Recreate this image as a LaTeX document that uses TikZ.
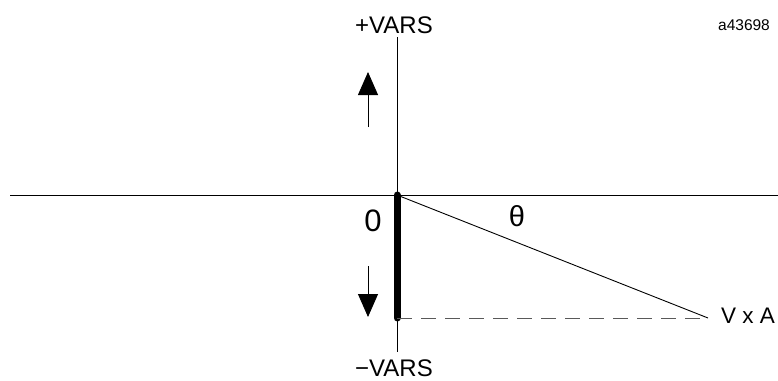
\documentclass[tikz,border=0pt]{standalone}
\usepackage{fontspec}
\setmainfont{Liberation Sans}
\usetikzlibrary{arrows.meta}

\tikzset{
  axisline/.style={draw=black, line width=0.9pt},
  bigfont/.style={font=\fontsize{24}{28}\selectfont, inner sep=0pt},
  moveup/.style={line width=0.9pt, -{Triangle[length=23pt, width=20pt]}}
}

\begin{document}
\begin{tikzpicture}[x=1pt, y=-1pt]
    \useasboundingbox (0,0) rectangle (778,380);

    % Axes
    \coordinate (O) at (397,195);
    \coordinate (top) at (397,37);
    \coordinate (bot) at (397,352);
    \coordinate (left) at (10,195);
    \coordinate (right) at (778,195);
    \draw[axisline] (left) -- (right);
    \draw[axisline] (top) -- (bot);

    % Reactive power and triangle
    \coordinate (base) at (397,318);
    \coordinate (tip) at (708,318);
    \draw[line width=7pt, line cap=round] (O) -- (base);
    \draw[line width=0.9pt] (O) -- (tip);
    \draw[line width=1pt, dash pattern=on 15pt off 9pt, draw=black!65] (base) -- (tip);

    % Direction arrows
    \coordinate (upfrom) at (368,127);
    \coordinate (upto) at (368,72);
    \coordinate (dnfrom) at (368,266);
    \coordinate (dnto) at (368,317);
    \draw[moveup] (upfrom) -- (upto);
    \draw[moveup] (dnfrom) -- (dnto);

    % Labels
    \node[bigfont] (plusvars) at (394,25) {+VARS};
    \node[bigfont] (minusvars) at (394,368) {−VARS};
    \node[font=\fontsize{31}{34}\selectfont, inner sep=0pt] (zero) at (373,221) {0};
    \node[font=\fontsize{29}{32}\selectfont, inner sep=0pt] (theta) at (517,216) {θ};
    \node[font=\fontsize{22.5}{26}\selectfont, inner sep=0pt, anchor=west] (vxa) at (721,316) {V x A};
    \node[font=\fontsize{15.5}{18}\selectfont, inner sep=0pt] (figid) at (744,25) {a43698};
\end{tikzpicture}
\end{document}
